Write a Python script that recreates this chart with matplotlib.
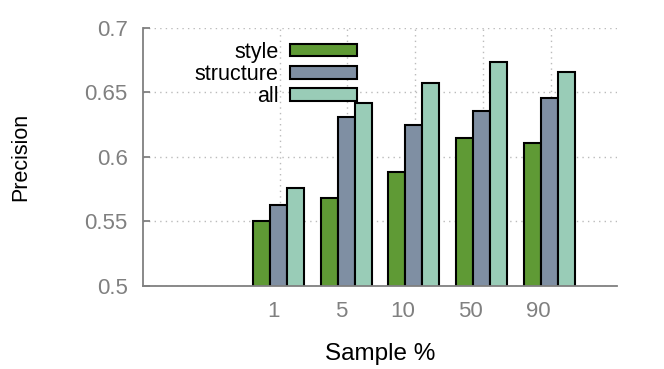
import matplotlib
matplotlib.use("Agg")
import matplotlib.pyplot as plt
from matplotlib.patches import Patch
import numpy as np

categories = ["1", "5", "10", "50", "90"]
style = [0.550, 0.568, 0.588, 0.615, 0.611]
structure = [0.563, 0.631, 0.625, 0.636, 0.646]
all_vals = [0.576, 0.642, 0.657, 0.674, 0.666]
series_names = ["style", "structure", "all"]
colors = ["#5f9a35", "#7f8fa3", "#99ccb7"]
yticks = [0.5, 0.55, 0.6, 0.65, 0.7]
ytick_labels = ["0.5", "0.55", "0.6", "0.65", "0.7"]

plt.rcParams['font.family'] = ['Liberation Sans', 'DejaVu Sans']

fig = plt.figure(figsize=(6.64, 3.69), dpi=100)
ax = fig.add_axes([143/664, 1-286/369, (617-143)/664, (286-28)/369])

x = np.arange(len(categories))
w = 0.25
series = [style, structure, all_vals]
for k, (vals, name, c) in enumerate(zip(series, series_names, colors)):
    ax.bar(x + (k-1)*w, vals, width=w, color=c, edgecolor="black",
           linewidth=1.5, label=name, zorder=3)

ax.set_xlim(-2, 5)
ax.set_ylim(0.5, 0.7)
ax.set_yticks(yticks)
ax.set_yticklabels(ytick_labels)
ax.set_xticks(x + 0.02)
ax.set_xticklabels(categories, ha="right")

gray = "#808080"
for s in ["top", "right"]:
    ax.spines[s].set_visible(False)
for s in ["left", "bottom"]:
    ax.spines[s].set_color(gray)
    ax.spines[s].set_linewidth(1.3)
    ax.spines[s].set_zorder(4)

ax.tick_params(axis="y", direction="in", length=5, width=1.3, color=gray,
               labelcolor=gray, labelsize=16, pad=11)
ax.tick_params(axis="x", length=0, labelcolor=gray, labelsize=16, pad=11)

ax.grid(True, linestyle=(0, (1, 3)), color="#bbbbbb", linewidth=1.0, zorder=0)
ax.set_axisbelow(True)

ax.set_xlabel("Sample %", fontsize=17.5, labelpad=15)
ax.set_ylabel("Precision", fontsize=15.5, labelpad=38)

handles = [Patch(facecolor=c, edgecolor="black", linewidth=1.5) for c in colors]
leg = ax.legend(handles, series_names, loc="upper right",
                bbox_to_anchor=(357/664, 1-42/369), bbox_transform=fig.transFigure,
                frameon=False, markerfirst=False, fontsize=15.5,
                handlelength=3.1, handleheight=0.5, handletextpad=0.55,
                labelspacing=0.05, borderpad=0, borderaxespad=0)

fig.savefig("out.png", dpi=100)
